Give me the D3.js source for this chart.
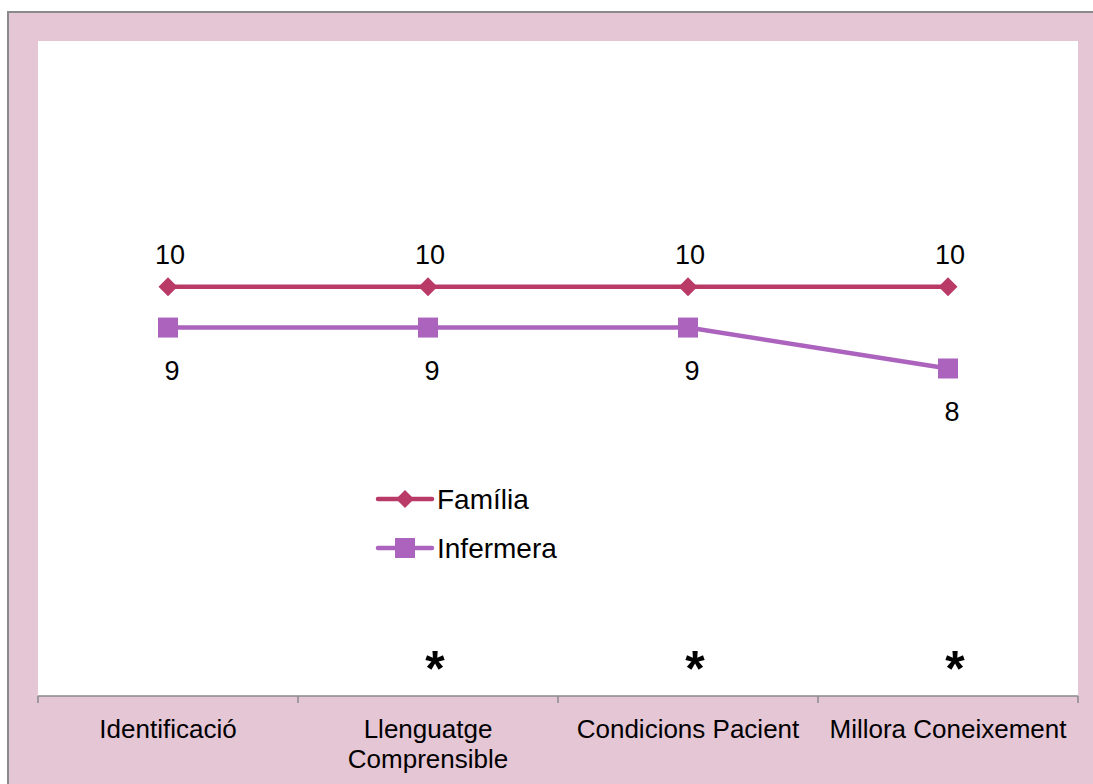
<!DOCTYPE html>
<html>
<head>
<meta charset="utf-8">
<script src="https://cdn.jsdelivr.net/npm/d3@7"></script>
<style>
  html, body { margin: 0; padding: 0; background: #ffffff; }
  svg { display: block; font-family: "Liberation Sans", Arial, sans-serif; }
</style>
</head>
<body>
<svg id="chart" width="1093" height="784"></svg>
<script>
// Scores per aspect of the information received
const categories = ["Identificació", "Llenguatge Comprensible", "Condicions Pacient", "Millora Coneixement"];
const familia = [10, 10, 10, 10];
const infermera = [9, 9, 9, 8];
const seriesNames = ["Família", "Infermera"];
// Aspects with a significant difference
const significant = [false, true, true, true];

const svg = d3.select("#chart");
const W = 1093, H = 784;

const frame = { x: 8, y: 12 };
const plot = { left: 38, right: 1078, top: 41, bottom: 696 };

// chart area background with border
svg.append("rect")
  .attr("x", frame.x).attr("y", frame.y)
  .attr("width", W + 20).attr("height", H + 20)
  .attr("fill", "#e5c6d5")
  .attr("stroke", "#8a8a8a").attr("stroke-width", 2);

// plot area
svg.append("rect")
  .attr("x", plot.left).attr("y", plot.top)
  .attr("width", plot.right - plot.left).attr("height", plot.bottom - plot.top)
  .attr("fill", "#ffffff");

const x = d3.scaleBand().domain(categories).range([plot.left, plot.right]).padding(0);
const y = d3.scaleLinear().domain([0, 16]).range([plot.bottom, plot.top]);
const cx = c => x(c) + x.bandwidth() / 2;

// category axis: ticks on band boundaries
const axisG = svg.append("g").attr("transform", `translate(0,${plot.bottom})`);
axisG.append("line")
  .attr("x1", plot.left).attr("x2", plot.right)
  .attr("stroke", "#8a8a8a").attr("stroke-width", 1.5);
const bounds = categories.map(c => x(c)).concat([plot.right]);
axisG.selectAll("line.tick").data(bounds).join("line")
  .attr("class", "tick")
  .attr("x1", d => d).attr("x2", d => d)
  .attr("y1", 0).attr("y2", 7)
  .attr("stroke", "#8a8a8a").attr("stroke-width", 1.5);

// category labels, wrapped to the band width
const labels = axisG.selectAll("text.cat").data(categories).join("text")
  .attr("class", "cat")
  .attr("x", d => cx(d))
  .attr("y", 42)
  .attr("text-anchor", "middle")
  .attr("font-size", 26)
  .attr("fill", "#000");

labels.each(function(d) {
  const t = d3.select(this);
  const words = d.split(" ");
  const maxW = x.bandwidth() - 10;
  let line = [];
  let tspan = t.append("tspan").attr("x", cx(d)).attr("dy", 0);
  for (const w of words) {
    line.push(w);
    tspan.text(line.join(" "));
    if (tspan.node().getComputedTextLength() > maxW && line.length > 1) {
      line.pop();
      tspan.text(line.join(" "));
      line = [w];
      tspan = t.append("tspan").attr("x", cx(d)).attr("dy", 30).text(w);
    }
  }
});

const colors = { "Família": "#b93a66", "Infermera": "#ab63bd" };

const lineGen = d3.line().x(d => cx(d.cat)).y(d => y(d.v));
const famData = categories.map((c, i) => ({ cat: c, v: familia[i] }));
const infData = categories.map((c, i) => ({ cat: c, v: infermera[i] }));

svg.append("path").datum(famData)
  .attr("d", lineGen).attr("fill", "none")
  .attr("stroke", colors["Família"]).attr("stroke-width", 4.5);
svg.append("path").datum(infData)
  .attr("d", lineGen).attr("fill", "none")
  .attr("stroke", colors["Infermera"]).attr("stroke-width", 4.5);

const diamond = (px, py, r) => `M${px},${py - r}L${px + r},${py}L${px},${py + r}L${px - r},${py}Z`;

svg.selectAll("path.dia").data(famData).join("path")
  .attr("class", "dia")
  .attr("d", d => diamond(cx(d.cat), y(d.v), 9.5))
  .attr("fill", colors["Família"]);

svg.selectAll("rect.sq").data(infData).join("rect")
  .attr("class", "sq")
  .attr("x", d => cx(d.cat) - 10).attr("y", d => y(d.v) - 10)
  .attr("width", 20).attr("height", 20)
  .attr("fill", colors["Infermera"]);

// value labels
svg.selectAll("text.famv").data(famData).join("text")
  .attr("class", "famv")
  .attr("x", d => cx(d.cat) + 2).attr("y", d => y(d.v) - 23)
  .attr("text-anchor", "middle").attr("font-size", 27)
  .text(d => d.v);
svg.selectAll("text.infv").data(infData).join("text")
  .attr("class", "infv")
  .attr("x", d => cx(d.cat) + 4).attr("y", d => y(d.v) + 52)
  .attr("text-anchor", "middle").attr("font-size", 27)
  .text(d => d.v);

// significance markers
svg.selectAll("text.sig").data(categories.filter((c, i) => significant[i])).join("text")
  .attr("class", "sig")
  .attr("x", d => cx(d) + 7).attr("y", 686)
  .attr("text-anchor", "middle").attr("font-size", 50).attr("font-weight", "bold")
  .text("*");

// legend
const legend = svg.append("g");
const legendRows = [
  { name: seriesNames[0], y: 499, shape: "diamond" },
  { name: seriesNames[1], y: 548, shape: "square" }
];
legendRows.forEach(r => {
  const g = legend.append("g");
  g.append("line").attr("x1", 378).attr("x2", 432).attr("y1", r.y).attr("y2", r.y)
    .attr("stroke", colors[r.name]).attr("stroke-width", 4.5).attr("stroke-linecap", "round");
  if (r.shape === "diamond") {
    g.append("path").attr("d", diamond(405, r.y, 9)).attr("fill", colors[r.name]);
  } else {
    g.append("rect").attr("x", 395).attr("y", r.y - 10).attr("width", 20).attr("height", 20)
      .attr("fill", colors[r.name]);
  }
  g.append("text").attr("x", 437).attr("y", r.y + 10)
    .attr("font-size", 28).attr("fill", "#000").text(r.name);
});
</script>
</body>
</html>
